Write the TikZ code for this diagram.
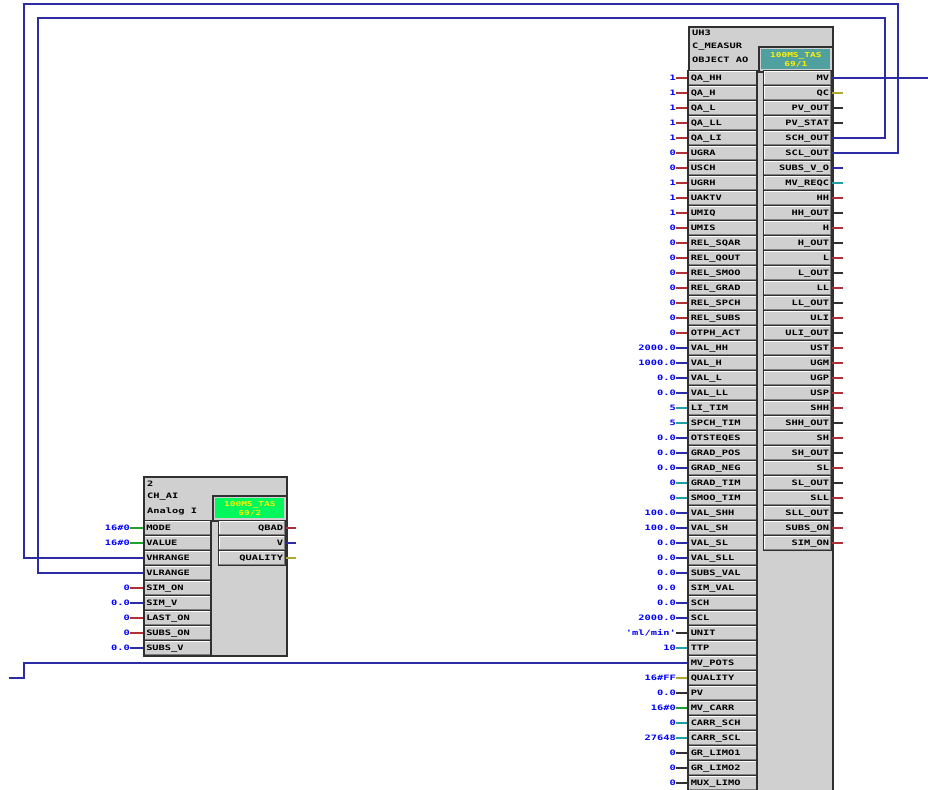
\documentclass[tikz,border=0pt]{standalone}
\usepackage{fontspec}
\newfontfamily\pix{DejaVu Sans Mono}[FakeStretch=1.4]
\definecolor{wred}{HTML}{B03038}
\definecolor{wyel}{HTML}{B0A830}
\definecolor{wteal}{HTML}{20A0A0}
\definecolor{wgrn}{HTML}{20A030}
\definecolor{wnavy}{HTML}{2C2CA4}
\definecolor{wblk}{HTML}{303030}
\definecolor{vblue}{HTML}{0000FF}
\definecolor{bgrey}{HTML}{D0D0D0}
\definecolor{edge}{HTML}{303030}
\definecolor{tagteal}{HTML}{50A0A0}
\definecolor{taggrn}{HTML}{00F85C}
\tikzset{
  bevel/.style={path picture={
    \draw[white,line width=2.4pt] (path picture bounding box.south west)--(path picture bounding box.north west)--(path picture bounding box.north east);
    \draw[gray,line width=2.4pt] (path picture bounding box.south west)--(path picture bounding box.south east)--(path picture bounding box.north east);}},
  body/.style={draw=edge,fill=bgrey,line width=1.7pt},
  pinbox/.style={draw=edge,fill=bgrey,line width=1.7pt,bevel,inner ysep=0pt,inner xsep=2.5pt,
     minimum height=15pt,text height=5.5pt,text depth=0pt,font=\pix\bfseries\fontsize{7.4}{8}\selectfont,text=black},
  pinL/.style={pinbox,text width=63.5pt,align=left},
  pinR/.style={pinbox,text width=63pt,align=right},
  val/.style={anchor=east,inner sep=0pt,text=vblue,text height=5.5pt,text depth=0pt,font=\pix\bfseries\fontsize{7.4}{8}\selectfont},
  stub/.style={line width=1.5pt},
  wire/.style={line width=1.5pt,draw=wnavy},
  htext/.style={anchor=west,inner sep=0pt,font=\pix\bfseries\fontsize{7.4}{8}\selectfont,text=black},
  frame/.style={draw=edge,fill=bgrey,line width=1.7pt,inner sep=0pt,minimum width=74pt,minimum height=25pt},
  tag/.style={inner sep=0pt,minimum width=69pt,minimum height=20pt,align=center,text=yellow,
     font=\pix\bfseries\fontsize{6.8}{9}\selectfont},
}
\begin{document}
\catcode`\_=12
\begin{tikzpicture}[x=1pt,y=-1pt]
\useasboundingbox (0,0) rectangle (928,789);
\clip (0,0) rectangle (928,789);
% large block
\node[body,anchor=north west,minimum width=144pt,minimum height=790pt,inner sep=0pt] (big) at (688,26) {};
\node[htext] (bt1) at (692,33) {UH3};
\node[htext] (bt2) at (692,47) {C_MEASUR};
\node[htext] (bt3) at (692,60) {OBJECT AO};
\node[frame,anchor=north west] (bframe) at (758,46) {};
\node[tag,fill=tagteal] (btag) at (bframe.center) {100MS_TAS\\69/1};
\foreach \t/\c/\v [count=\i] in {
QA_HH/wred/1,QA_H/wred/1,QA_L/wred/1,QA_LL/wred/1,QA_LI/wred/1,UGRA/wred/0,USCH/wred/0,UGRH/wred/1,UAKTV/wred/1,UMIQ/wred/1,
UMIS/wred/0,REL_SQAR/wred/0,REL_QOUT/wred/0,REL_SMOO/wred/0,REL_GRAD/wred/0,REL_SPCH/wred/0,REL_SUBS/wred/0,OTPH_ACT/wred/0,
VAL_HH/wnavy/2000.0,VAL_H/wnavy/1000.0,VAL_L/wnavy/0.0,VAL_LL/wnavy/0.0,LI_TIM/wteal/5,SPCH_TIM/wteal/5,
OTSTEQES/wnavy/0.0,GRAD_POS/wnavy/0.0,GRAD_NEG/wnavy/0.0,GRAD_TIM/wteal/0,SMOO_TIM/wteal/0,
VAL_SHH/wnavy/100.0,VAL_SH/wnavy/100.0,VAL_SL/wnavy/0.0,VAL_SLL/wnavy/0.0,SUBS_VAL/wnavy/0.0,SIM_VAL/none/0.0,
SCH/wnavy/0.0,SCL/wnavy/2000.0,UNIT/wblk/{'ml/min'},TTP/wteal/10,MV_POTS/none/{},QUALITY/wyel/16\#FF,PV/wblk/0.0,
MV_CARR/wgrn/16\#0,CARR_SCH/wteal/0,CARR_SCL/wteal/27648,GR_LIMO1/wblk/0,GR_LIMO2/wblk/0,MUX_LIMO/wblk/0}{
  \node[pinL] (bl\i) at (722.5,{78+15*(\i-1)}) {\t};
  \node[val] (bv\i) at (676,{78+15*(\i-1)}) {\v};
  \draw[stub,draw=\c] (bv\i.east) -- (bl\i.west);
}
\foreach \t/\c [count=\i] in {
MV/none,QC/wyel,PV_OUT/wblk,PV_STAT/wblk,SCH_OUT/none,SCL_OUT/none,SUBS_V_O/wnavy,MV_REQC/wteal,
HH/wred,HH_OUT/wblk,H/wred,H_OUT/wblk,L/wred,L_OUT/wblk,LL/wred,LL_OUT/wblk,ULI/wred,ULI_OUT/wblk,
UST/wred,UGM/wred,UGP/wred,USP/wred,SHH/wred,SHH_OUT/wblk,SH/wred,SH_OUT/wblk,SL/wred,SL_OUT/wblk,
SLL/wred,SLL_OUT/wblk,SUBS_ON/wred,SIM_ON/wred}{
  \node[pinR] (br\i) at (797.5,{78+15*(\i-1)}) {\t};
  \coordinate (be\i) at (843,{78+15*(\i-1)});
  \draw[stub,draw=\c] (br\i.east) -- (be\i);
}
% small block
\node[body,anchor=north west,minimum width=143pt,minimum height=179pt,inner sep=0pt] (small) at (143,476) {};
\node[htext] (st1) at (147,484) {2};
\node[htext] (st2) at (147,497) {CH_AI};
\node[htext] (st3) at (147,511) {Analog I};
\node[frame,anchor=north west] (sframe) at (212,495) {};
\node[tag,fill=taggrn] (stag) at (sframe.center) {\textcolor{black}{}100MS_TAS\\69/2};
\foreach \t/\c/\v [count=\i] in {
MODE/wgrn/16\#0,VALUE/wgrn/16\#0,VHRANGE/none/{},VLRANGE/none/{},SIM_ON/wred/0,SIM_V/wnavy/0.0,LAST_ON/wred/0,SUBS_ON/wred/0,SUBS_V/wnavy/0.0}{
  \node[pinL,text width=62.5pt] (sl\i) at (177.5,{528+15*(\i-1)}) {\t};
  \node[val] (sv\i) at (130,{528+15*(\i-1)}) {\v};
  \draw[stub,draw=\c] (sv\i.east) -- (sl\i.west);
}
\foreach \t/\c [count=\i] in {QBAD/wred,V/wnavy,QUALITY/wyel}{
  \node[pinR,text width=62pt] (sr\i) at (252,{528+15*(\i-1)}) {\t};
  \coordinate (se\i) at (296,{528+15*(\i-1)});
  \draw[stub,draw=\c] (sr\i.east) -- (se\i);
}
% long wires
\coordinate (mvend) at (928,78);
\draw[wire] (br1.east) -- (mvend);
\coordinate (a1) at (885,138);
\coordinate (a2) at (885,18);
\coordinate (a3) at (38,18);
\coordinate (a4) at (38,573);
\draw[wire] (br5.east) -- (a1) -- (a2) -- (a3) -- (a4) -- (sl4.west);
\coordinate (b1) at (898,153);
\coordinate (b2) at (898,4);
\coordinate (b3) at (24,4);
\coordinate (b4) at (24,558);
\draw[wire] (br6.east) -- (b1) -- (b2) -- (b3) -- (b4) -- (sl3.west);
\coordinate (c1) at (24,663);
\coordinate (c2) at (24,678);
\coordinate (c3) at (9,678);
\draw[wire] (bl40.west) -- (c1) -- (c2) -- (c3);
\end{tikzpicture}
\end{document}
